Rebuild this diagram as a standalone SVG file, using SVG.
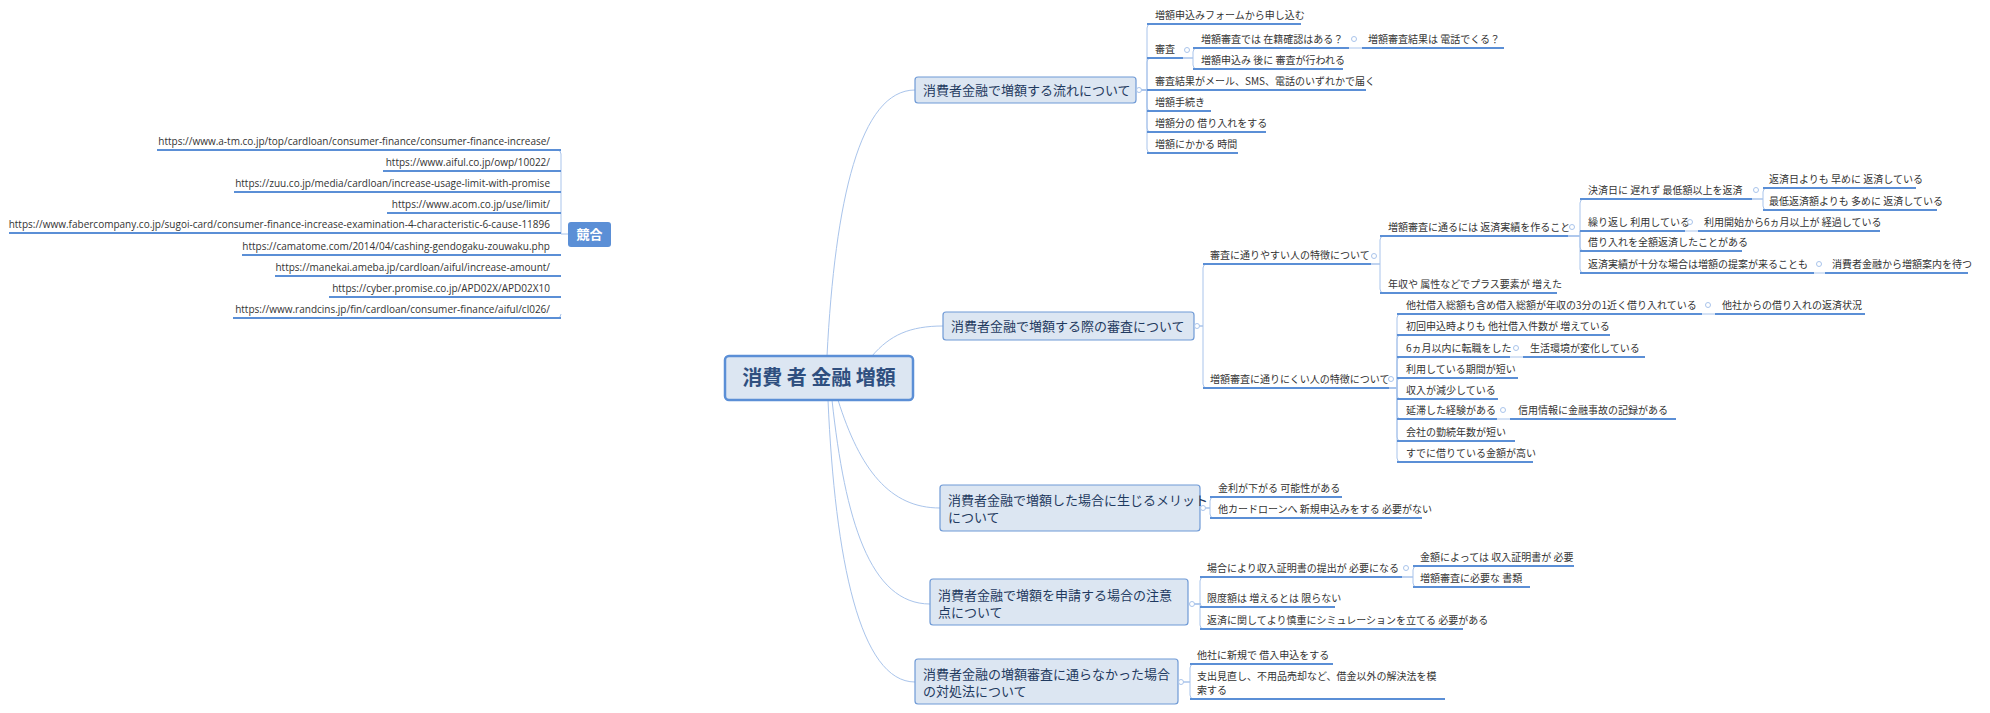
<svg xmlns="http://www.w3.org/2000/svg" width="1990" height="713" viewBox="0 0 1990 713">
<style>
text{font-family:"Noto Sans CJK JP","Noto Sans",sans-serif;}
.t{font-size:10px;fill:#333;}
.u{font-size:10px;fill:#333;text-anchor:end;font-family:"Open Sans","Noto Sans",sans-serif;}
.m{font-size:13px;fill:#1f3a60;}
.box{fill:#dce6f2;stroke:#6f9ad6;stroke-width:1.2;}
.ul{stroke:#5b8fd6;stroke-width:2;fill:none;}
.c{stroke:#a9c4eb;stroke-width:1;fill:none;}
.k{fill:#fff;stroke:#a9c4eb;stroke-width:1;}
</style>
<rect width="1990" height="713" fill="#fff"/>
<g id="connectors">
<path class="c" d="M827 356C835 200 860 90 915 90"/>
<path class="c" d="M872 356C890 335 910 326 943 326"/>
<path class="c" d="M838 400C860 470 890 508 940 508"/>
<path class="c" d="M832 400C845 520 870 604 930 604"/>
<path class="c" d="M828 400C835 560 860 682 915 682"/>
<path class="c" d="M1139 90H1147V28Q1147 24 1151 24M1139 90H1147V62Q1147 58 1151 58M1139 90H1151M1139 90H1147V107Q1147 111 1151 111M1139 90H1147V128Q1147 132 1151 132M1139 90H1147V149Q1147 153 1151 153"/>
<path class="c" d="M1183 58H1193V52Q1193 48 1197 48M1183 58H1193V65Q1193 69 1197 69M1349 48H1362"/>
<path class="c" d="M1197 326H1203V268Q1203 264 1207 264M1197 326H1203V384Q1203 388 1207 388"/>
<path class="c" d="M1371 264H1380V240Q1380 236 1384 236M1371 264H1380V289Q1380 293 1384 293"/>
<path class="c" d="M1568 236H1580V203Q1580 199 1584 199M1568 236H1580V231H1584M1568 236H1580V247Q1580 251 1584 251M1568 236H1580V269Q1580 273 1584 273"/>
<path class="c" d="M1752 199H1763V192Q1763 188 1767 188M1752 199H1763V206Q1763 210 1767 210M1685 231H1698M1814 273H1825"/>
<path class="c" d="M1389 388H1397V318Q1397 314 1401 314M1389 388H1397V339Q1397 335 1401 335M1389 388H1397V361Q1397 357 1401 357M1389 388H1397V382Q1397 378 1401 378M1389 388H1397V395Q1397 399 1401 399M1389 388H1397V415Q1397 419 1401 419M1389 388H1397V437Q1397 441 1401 441M1389 388H1397V458Q1397 462 1401 462"/>
<path class="c" d="M1702 314H1715M1510 357H1523M1497 419H1510"/>
<path class="c" d="M1203 508H1210V501Q1210 497 1214 497M1203 508H1210V514Q1210 518 1214 518"/>
<path class="c" d="M1192 604H1200V581Q1200 577 1204 577M1192 604H1200V603Q1200 607 1204 607M1192 604H1200V625Q1200 629 1204 629"/>
<path class="c" d="M1402 577H1413V570Q1413 566 1417 566M1402 577H1413V583Q1413 587 1417 587"/>
<path class="c" d="M1181 682H1190V668Q1190 664 1194 664M1181 682H1190V695Q1190 699 1194 699"/>
<path class="c" d="M568 234H561V154Q561 150 557 150M561 171H557M561 192H557M561 213H557M561 233H557M561 255H557M561 276H557M561 297H557M561 314Q561 318 557 318"/>
</g>
<g id="root"><rect x="725" y="356" width="188" height="44" rx="4" fill="#dce6f2" stroke="#5b8fd6" stroke-width="2.5"/><text x="819" y="385" text-anchor="middle" font-size="20" font-weight="bold" fill="#2f4f7f">消費 者 金融 増額</text></g>
<g id="kyogo"><rect x="568" y="222" width="43" height="25" rx="3" fill="#5b8fd6"/><text x="589.5" y="239" text-anchor="middle" font-size="13" font-weight="bold" fill="#fff">競合</text>
<path class="ul" d="M157 150H561M383 171H561M234 192H561M387 213H561M9 233H561M242 255H561M275 276H561M329 297H561M233 318H561"/>
<text class="u" x="550" y="145">https://www.a-tm.co.jp/top/cardloan/consumer-finance/consumer-finance-increase/</text>
<text class="u" x="550" y="166">https://www.aiful.co.jp/owp/10022/</text>
<text class="u" x="550" y="187">https://zuu.co.jp/media/cardloan/increase-usage-limit-with-promise</text>
<text class="u" x="550" y="208">https://www.acom.co.jp/use/limit/</text>
<text class="u" x="550" y="228">https://www.fabercompany.co.jp/sugoi-card/consumer-finance-increase-examination-4-characteristic-6-cause-11896</text>
<text class="u" x="550" y="250">https://camatome.com/2014/04/cashing-gendogaku-zouwaku.php</text>
<text class="u" x="550" y="271">https://manekai.ameba.jp/cardloan/aiful/increase-amount/</text>
<text class="u" x="550" y="292">https://cyber.promise.co.jp/APD02X/APD02X10</text>
<text class="u" x="550" y="313">https://www.randcins.jp/fin/cardloan/consumer-finance/aiful/cl026/</text>
</g>
<g id="node1"><rect class="box" x="915" y="77" width="221" height="26" rx="3"/><text class="m" x="923" y="95">消費者金融で増額する流れについて</text><circle class="k" cx="1139" cy="90" r="2.5"/>
<path class="ul" d="M1147 24H1301M1147 58H1183M1147 90H1366M1147 111H1211M1147 132H1266M1147 153H1238M1193 48H1349M1362 48H1504M1193 69H1343"/>
<text class="t" x="1155" y="19">増額申込みフォームから申し込む</text>
<text class="t" x="1155" y="53">審査</text><circle class="k" cx="1187" cy="50" r="2.5"/>
<text class="t" x="1201" y="43">増額審査では 在籍確認はある？</text><circle class="k" cx="1354" cy="39" r="2.5"/>
<text class="t" x="1368" y="43">増額審査結果は 電話でくる？</text>
<text class="t" x="1201" y="64">増額申込み 後に 審査が行われる</text>
<text class="t" x="1155" y="85">審査結果がメール、SMS、電話のいずれかで届く</text>
<text class="t" x="1155" y="106">増額手続き</text>
<text class="t" x="1155" y="127">増額分の 借り入れをする</text>
<text class="t" x="1155" y="148">増額にかかる 時間</text>
</g>
<g id="node2"><rect class="box" x="943" y="312" width="251" height="28" rx="3"/><text class="m" x="951" y="331">消費者金融で増額する際の審査について</text><circle class="k" cx="1197" cy="326" r="2.5"/>
<path class="ul" d="M1203 264H1371M1380 236H1568M1380 293H1557M1580 199H1752M1763 188H1916M1763 210H1937M1580 231H1685M1698 231H1880M1580 251H1742M1580 273H1814M1825 273H1968"/>
<text class="t" x="1210" y="259">審査に通りやすい人の特徴について</text><circle class="k" cx="1374" cy="256" r="2.5"/>
<text class="t" x="1388" y="231">増額審査に通るには 返済実績を作ること</text><circle class="k" cx="1572" cy="227" r="2.5"/>
<text class="t" x="1588" y="194">決済日に 遅れず 最低額以上を返済</text><circle class="k" cx="1756" cy="190" r="2.5"/>
<text class="t" x="1769" y="183">返済日よりも 早めに 返済している</text>
<text class="t" x="1769" y="205">最低返済額よりも 多めに 返済している</text>
<text class="t" x="1588" y="226">繰り返し 利用している</text><circle class="k" cx="1690" cy="222" r="2.5"/>
<text class="t" x="1704" y="226">利用開始から6ヵ月以上が 経過している</text>
<text class="t" x="1588" y="246">借り入れを全額返済したことがある</text>
<text class="t" x="1588" y="268">返済実績が十分な場合は増額の提案が来ることも</text><circle class="k" cx="1819" cy="264" r="2.5"/>
<text class="t" x="1832" y="268">消費者金融から増額案内を待つ</text>
<text class="t" x="1388" y="288">年収や 属性などでプラス要素が 増えた</text>
<path class="ul" d="M1203 388H1389M1397 314H1702M1715 314H1865M1397 335H1610M1397 357H1510M1523 357H1645M1397 378H1518M1397 399H1498M1397 419H1497M1510 419H1676M1397 441H1515M1397 462H1533"/>
<text class="t" x="1210" y="383">増額審査に通りにくい人の特徴について</text><circle class="k" cx="1391" cy="379" r="2.5"/>
<text class="t" x="1406" y="309">他社借入総額も含め借入総額が年収の3分の1近く借り入れている</text><circle class="k" cx="1708" cy="305" r="2.5"/>
<text class="t" x="1722" y="309">他社からの借り入れの返済状況</text>
<text class="t" x="1406" y="330">初回申込時よりも 他社借入件数が 増えている</text>
<text class="t" x="1406" y="352">6ヵ月以内に転職をした</text><circle class="k" cx="1516" cy="348" r="2.5"/>
<text class="t" x="1530" y="352">生活環境が変化している</text>
<text class="t" x="1406" y="373">利用している期間が短い</text>
<text class="t" x="1406" y="394">収入が減少している</text>
<text class="t" x="1406" y="414">延滞した経験がある</text><circle class="k" cx="1503" cy="410" r="2.5"/>
<text class="t" x="1518" y="414">信用情報に金融事故の記録がある</text>
<text class="t" x="1406" y="436">会社の勤続年数が短い</text>
<text class="t" x="1406" y="457">すでに借りている金額が高い</text>
</g>
<g id="node3"><rect class="box" x="940" y="485" width="260" height="46" rx="3"/><text class="m" x="948" y="505">消費者金融で増額した場合に生じるメリット</text><text class="m" x="948" y="522">について</text><circle class="k" cx="1203" cy="508" r="2.5"/>
<path class="ul" d="M1210 497H1342M1210 518H1422"/>
<text class="t" x="1218" y="492">金利が下がる 可能性がある</text>
<text class="t" x="1218" y="513">他カードローンへ 新規申込みをする 必要がない</text>
</g>
<g id="node4"><rect class="box" x="930" y="579" width="258" height="46" rx="3"/><text class="m" x="938" y="600">消費者金融で増額を申請する場合の注意</text><text class="m" x="938" y="617">点について</text><circle class="k" cx="1192" cy="604" r="2.5"/>
<path class="ul" d="M1200 577H1402M1413 566H1574M1413 587H1530M1200 607H1335M1200 629H1463"/>
<text class="t" x="1207" y="572">場合により収入証明書の提出が 必要になる</text><circle class="k" cx="1406" cy="568" r="2.5"/>
<text class="t" x="1420" y="561">金額によっては 収入証明書が 必要</text>
<text class="t" x="1420" y="582">増額審査に必要な 書類</text>
<text class="t" x="1207" y="602">限度額は 増えるとは 限らない</text>
<text class="t" x="1207" y="624">返済に関してより慎重にシミュレーションを立てる 必要がある</text>
</g>
<g id="node5"><rect class="box" x="915" y="659" width="263" height="45" rx="3"/><text class="m" x="923" y="679">消費者金融の増額審査に通らなかった場合</text><text class="m" x="923" y="696">の対処法について</text><circle class="k" cx="1181" cy="682" r="2.5"/>
<path class="ul" d="M1190 664H1333M1190 699H1445"/>
<text class="t" x="1197" y="659">他社に新規で 借入申込をする</text>
<text class="t" x="1197" y="680">支出見直し、不用品売却など、借金以外の解決法を模</text>
<text class="t" x="1197" y="694">索する</text>
</g>
</svg>
